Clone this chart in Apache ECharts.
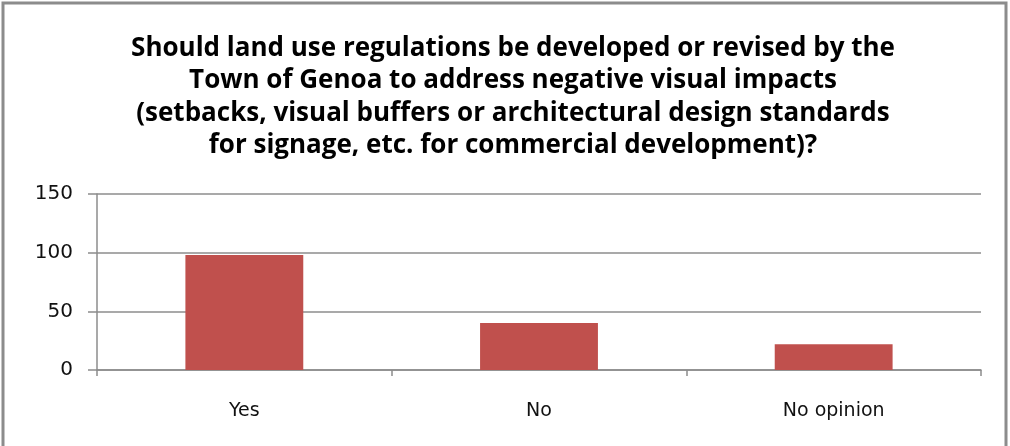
<!DOCTYPE html>
<html><head><meta charset="utf-8">
<script src="https://cdn.jsdelivr.net/npm/echarts@6/dist/echarts.min.js"></script>
<style>html,body{margin:0;padding:0;background:#fff}#c{width:1010px;height:446px}</style>
</head><body><div id="c"></div>
<script>
const titleLines = [
  'Should land use regulations be developed or revised by the',
  'Town of Genoa to address negative visual impacts',
  '(setbacks, visual buffers or architectural design standards',
  'for signage, etc. for commercial development)?'
];
const categories = ['Yes', 'No', 'No opinion'];
const values = [98, 40, 22];
const yTicks = { min: 0, max: 150, interval: 50 };

const chart = echarts.init(document.getElementById('c'), null, { renderer: 'canvas' });
chart.setOption({
  animation: false,
  backgroundColor: '#fff',
  title: {
    text: titleLines.join('\n'),
    left: 508, top: 27, textAlign: 'center',
    textStyle: { fontFamily: 'Open Sans', fontWeight: 'bold', fontSize: 26, lineHeight: 32.5, color: '#000' }
  },
  graphic: [{
    type: 'rect', shape: { x: 3, y: 3, width: 1003, height: 460 },
    style: { fill: 'none', stroke: '#8c8c8c', lineWidth: 3 }, silent: true
  }],
  grid: { left: 97, right: 29, top: 194, bottom: 76, containLabel: false },
  xAxis: {
    type: 'category', data: categories, boundaryGap: true,
    axisLine: { lineStyle: { color: '#8c8c8c', width: 1.5 } },
    axisTick: { show: true, length: 6, lineStyle: { color: '#8c8c8c', width: 1.5 } },
    axisLabel: { margin: 32, fontFamily: 'DejaVu Sans', fontSize: 19, color: '#111' }
  },
  yAxis: {
    type: 'value', min: yTicks.min, max: yTicks.max, interval: yTicks.interval,
    axisLine: { show: true, lineStyle: { color: '#8c8c8c', width: 1.5 } },
    axisTick: { show: true, length: 9, lineStyle: { color: '#8c8c8c', width: 1.5 } },
    splitLine: { show: true, lineStyle: { color: '#8c8c8c', width: 1.5 } },
    axisLabel: { margin: 24, fontFamily: 'DejaVu Sans', fontSize: 20, color: '#111', padding: [3, 0, 0, 0] }
  },
  series: [{
    type: 'bar', data: values, barWidth: '40%',
    itemStyle: { color: '#c0504d' }
  }]
});
</script></body></html>
